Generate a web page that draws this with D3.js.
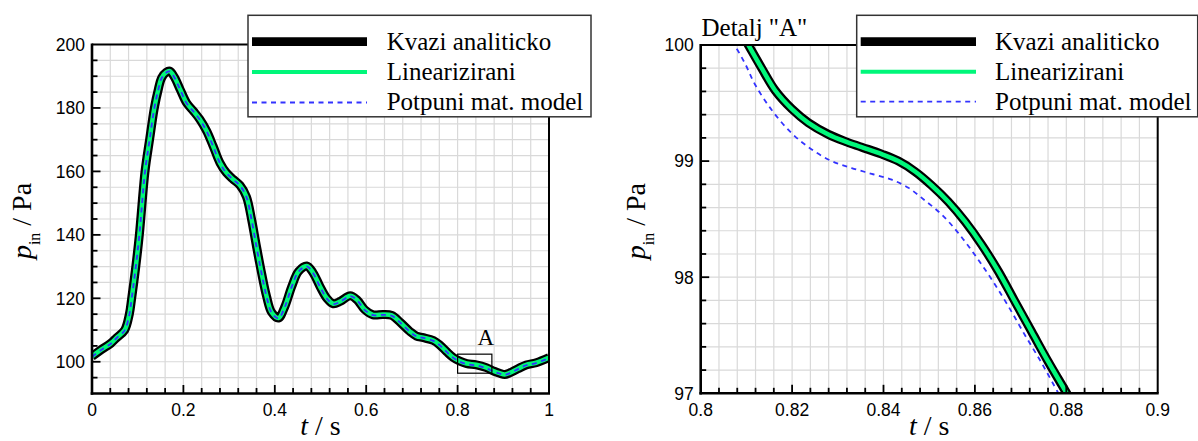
<!DOCTYPE html>
<html><head><meta charset="utf-8">
<script src="https://cdn.jsdelivr.net/npm/d3@7/dist/d3.min.js"></script>
<style>html,body{margin:0;padding:0;background:#fff;overflow:hidden}</style>
</head><body><svg id="c" width="1198" height="441"></svg>
<script>
// ---------- DATA ----------
const seriesNames = ["Kvazi analiticko", "Linearizirani", "Potpuni mat. model"];

// Left plot: full time range
const tLeft = [0, 0.02, 0.041, 0.054, 0.0715, 0.0817, 0.0868, 0.095, 0.1036, 0.116, 0.126, 0.1364, 0.145, 0.1524, 0.162, 0.170, 0.180, 0.193, 0.207, 0.222, 0.236, 0.251, 0.265, 0.280, 0.294, 0.309, 0.324, 0.338, 0.349, 0.360, 0.371, 0.382, 0.393, 0.408, 0.422, 0.437, 0.452, 0.470, 0.484, 0.499, 0.514, 0.528, 0.543, 0.565, 0.580, 0.597, 0.615, 0.637, 0.656, 0.674, 0.696, 0.710, 0.725, 0.747, 0.761, 0.776, 0.790, 0.805, 0.820, 0.841, 0.863, 0.880, 0.892, 0.903, 0.914, 0.932, 0.950, 0.972, 1.0];
const kvaziLeft = [101.7, 103.8, 105.8, 107.6, 110, 115, 120, 129, 140, 160, 170, 180, 185.8, 189.5, 191.2, 191.6, 189.8, 185.8, 181.6, 179, 176.4, 172.7, 168, 162.7, 159.6, 157.5, 155.6, 152, 145, 136.3, 128, 120.6, 115.6, 113.8, 117.4, 123.7, 128.5, 130.2, 128, 123.7, 120, 118.3, 119, 120.8, 119.5, 116.4, 114.8, 114.9, 114.6, 112.5, 109.5, 108.1, 107.6, 106.7, 105.3, 103.2, 101.4, 100.2, 99.45, 99.05, 98.15, 97.0, 96.4, 96.0, 96.5, 97.8, 99.0, 99.7, 101.3];
const linearLeft = [101.7, 103.8, 105.8, 107.6, 110, 115, 120, 129, 140, 160, 170, 180, 185.8, 189.5, 191.2, 191.6, 189.8, 185.8, 181.6, 179, 176.4, 172.7, 168, 162.7, 159.6, 157.5, 155.6, 152, 145, 136.3, 128, 120.6, 115.6, 113.8, 117.4, 123.7, 128.5, 130.2, 128, 123.7, 120, 118.3, 119, 120.8, 119.5, 116.4, 114.8, 114.9, 114.6, 112.5, 109.5, 108.1, 107.6, 106.7, 105.3, 103.2, 101.4, 100.2, 99.45, 99.05, 98.15, 97.0, 96.4, 96.0, 96.5, 97.8, 99.0, 99.7, 101.3];
const potpuniLeft = [101.6, 103.7, 105.7, 107.5, 109.9, 114.9, 119.9, 128.9, 139.9, 159.9, 169.9, 179.9, 185.7, 189.4, 191.1, 191.5, 189.7, 185.7, 181.5, 178.9, 176.3, 172.6, 167.9, 162.6, 159.5, 157.4, 155.5, 151.9, 144.9, 136.2, 127.9, 120.5, 115.5, 113.7, 117.3, 123.6, 128.4, 130.1, 127.9, 123.6, 119.9, 118.2, 118.9, 120.7, 119.4, 116.3, 114.7, 114.8, 114.5, 112.4, 109.4, 108.0, 107.5, 106.6, 105.2, 103.1, 101.3, 100.0, 99.25, 98.85, 97.95, 96.8, 96.3, 95.9, 96.4, 97.7, 98.9, 99.6, 101.2];

// Right plot: Detail "A"
const tDetailK = [0.8084, 0.81043, 0.81335, 0.81627, 0.81991, 0.82356, 0.82794, 0.83158, 0.83523, 0.83961, 0.84325, 0.8469, 0.85055, 0.85419, 0.85784, 0.86149, 0.86514, 0.86878, 0.87243, 0.87608, 0.88009, 0.8815];
const kvaziDetail = [100.14, 100.0, 99.8, 99.61, 99.45, 99.33, 99.23, 99.17, 99.12, 99.06, 99.0, 98.91, 98.79, 98.65, 98.48, 98.28, 98.05, 97.79, 97.53, 97.27, 97.0, 96.9];
const linearDetail = [100.14, 100.0, 99.8, 99.61, 99.45, 99.33, 99.23, 99.17, 99.12, 99.06, 99.0, 98.91, 98.79, 98.65, 98.48, 98.28, 98.05, 97.79, 97.53, 97.27, 97.0, 96.9];
const tDetailP = [0.8055, 0.80737, 0.8097, 0.81189, 0.81554, 0.81991, 0.82429, 0.82867, 0.83304, 0.83742, 0.8418, 0.84544, 0.84909, 0.85274, 0.85638, 0.86003, 0.86368, 0.86732, 0.87097, 0.87462, 0.87827, 0.8797];
const potpuniDetail = [100.1, 100.0, 99.84, 99.66, 99.44, 99.24, 99.10, 99.0, 98.94, 98.89, 98.84, 98.77, 98.66, 98.54, 98.38, 98.19, 97.98, 97.75, 97.50, 97.26, 97.0, 96.9];

// Ticks
const leftXMajor = [0, 0.2, 0.4, 0.6, 0.8, 1];
const leftXLabels = ["0", "0.2", "0.4", "0.6", "0.8", "1"];
const leftYMajor = [100, 120, 140, 160, 180, 200];
const leftYLabels = ["100", "120", "140", "160", "180", "200"];
const rightXMajor = [0.8, 0.82, 0.84, 0.86, 0.88, 0.9];
const rightXLabels = ["0.8", "0.82", "0.84", "0.86", "0.88", "0.9"];
const rightYMajor = [97, 98, 99, 100];
const rightYLabels = ["97", "98", "99", "100"];

// Detail box "A" on left plot
const boxA = {t0: 0.8, t1: 0.875, p0: 96.4, p1: 102.4};

// ---------- DRAW ----------
const svg = d3.select("#c");
const SERIF = "'Liberation Serif','Times New Roman',serif";
const SANS = "'Liberation Sans',Arial,Helvetica,sans-serif";

function range(a, b, step) { const out = []; const n = Math.round((b - a) / step); for (let i = 0; i <= n; i++) out.push(+(a + i * step).toFixed(6)); return out; }

function panel(cfg) {
  const g = svg.append("g");
  const x = d3.scaleLinear().domain(cfg.xd).range(cfg.xr);
  const y = d3.scaleLinear().domain(cfg.yd).range(cfg.yr);
  const id = "clip" + cfg.id;
  svg.append("defs").append("clipPath").attr("id", id).append("rect")
    .attr("x", cfg.xr[0]).attr("y", cfg.yr[1]).attr("width", cfg.xr[1] - cfg.xr[0]).attr("height", cfg.yr[0] - cfg.yr[1]);

  // grid
  const gx = range(cfg.xd[0], cfg.xd[1], cfg.xMinor);
  const gy = range(cfg.yd[0], cfg.yd[1], cfg.yMinor);
  g.append("g").selectAll("line").data(gx).join("line")
    .attr("x1", d => x(d)).attr("x2", d => x(d)).attr("y1", cfg.yr[0]).attr("y2", cfg.yr[1])
    .attr("stroke", "#d9d9d9").attr("stroke-width", 1.2);
  g.append("g").selectAll("line").data(gy).join("line")
    .attr("y1", d => y(d)).attr("y2", d => y(d)).attr("x1", cfg.xr[0]).attr("x2", cfg.xr[1])
    .attr("stroke", "#d9d9d9").attr("stroke-width", 1.2);

  // curves
  const cg = g.append("g").attr("clip-path", `url(#${id})`);
  const line = d3.line().x(d => x(d[0])).y(d => y(d[1])).curve(d3.curveCatmullRom.alpha(0.5));
  const zipS = (t, v) => t.map((tt, i) => [tt, v[i]]);
  cg.append("path").attr("d", line(zipS(cfg.tK, cfg.k))).attr("fill", "none").attr("stroke", "#000").attr("stroke-width", 9).attr("stroke-linejoin", "round");
  cg.append("path").attr("d", line(zipS(cfg.tK, cfg.l))).attr("fill", "none").attr("stroke", "#00f77a").attr("stroke-width", 4.5).attr("stroke-linejoin", "round");
  cg.append("path").attr("d", line(zipS(cfg.tP, cfg.p))).attr("fill", "none").attr("stroke", "#3333ff").attr("stroke-width", 1.8).attr("stroke-dasharray", "5,4.5");

  // frame
  const [x0, x1] = cfg.xr, [yb, yt] = cfg.yr;
  g.append("line").attr("x1", x0).attr("x2", x1).attr("y1", yt).attr("y2", yt).attr("stroke", "#000").attr("stroke-width", 2);
  g.append("line").attr("x1", x1).attr("x2", x1).attr("y1", yt).attr("y2", yb).attr("stroke", "#000").attr("stroke-width", 2);
  g.append("line").attr("x1", x0).attr("x2", x0).attr("y1", yt - 1).attr("y2", yb + 1.25).attr("stroke", "#000").attr("stroke-width", 2.6);
  g.append("line").attr("x1", x0 - 1.3).attr("x2", x1 + 1).attr("y1", yb).attr("y2", yb).attr("stroke", "#000").attr("stroke-width", 2.6);

  // ticks
  const majX = new Set(cfg.xMajor.map(v => v.toFixed(5)));
  const majY = new Set(cfg.yMajor.map(v => v.toFixed(5)));
  g.append("g").selectAll("line").data(gx.slice(1, -1)).join("line")
    .attr("x1", d => x(d)).attr("x2", d => x(d)).attr("y1", yb).attr("y2", d => yb - (majX.has(d.toFixed(5)) ? 8.5 : 5.5))
    .attr("stroke", "#000").attr("stroke-width", 1.8);
  g.append("g").selectAll("line").data(gy.slice(1, -1)).join("line")
    .attr("y1", d => y(d)).attr("y2", d => y(d)).attr("x1", x0).attr("x2", d => x0 + (majY.has(d.toFixed(5)) ? 8.5 : 5.5))
    .attr("stroke", "#000").attr("stroke-width", 1.8);

  // tick labels
  g.append("g").selectAll("text").data(cfg.xMajor).join("text")
    .attr("x", d => x(d)).attr("y", 416).attr("text-anchor", "middle")
    .attr("font-family", SANS).attr("font-size", 17.5).text((d, i) => cfg.xLabels[i]);
  g.append("g").selectAll("text").data(cfg.yMajor).join("text")
    .attr("x", x0 - 7).attr("y", d => y(d) + 6.3).attr("text-anchor", "end")
    .attr("font-family", SANS).attr("font-size", 17.5).text((d, i) => cfg.yLabels[i]);

  // axis titles
  const xt = g.append("text").attr("x", (x0 + x1) / 2).attr("y", 435).attr("text-anchor", "middle")
    .attr("font-family", SERIF).attr("font-size", 28);
  xt.append("tspan").attr("font-style", "italic").text("t");
  xt.append("tspan").text(" / s");

  const yt2 = g.append("text").attr("transform", `translate(${cfg.yTitleX},${(yb + yt) / 2 + 2}) rotate(-90)`)
    .attr("text-anchor", "middle").attr("font-family", SERIF).attr("font-size", 28);
  yt2.append("tspan").attr("font-style", "italic").text("p");
  yt2.append("tspan").attr("font-size", 16).attr("dy", 9).text("in");
  yt2.append("tspan").attr("dy", -9).text(" / Pa");

  return {g, x, y};
}

const L = panel({id: "L", xd: [0, 1], yd: [90, 200], xr: [92, 549], yr: [393.5, 44.5], xMinor: 0.04, yMinor: 5,
  xMajor: leftXMajor, xLabels: leftXLabels, yMajor: leftYMajor, yLabels: leftYLabels, yTitleX: 31,
  tK: tLeft, k: kvaziLeft, l: linearLeft, tP: tLeft, p: potpuniLeft});

const R = panel({id: "R", xd: [0.8, 0.9], yd: [97, 100], xr: [700.7, 1157.7], yr: [393.3, 45], xMinor: 0.004, yMinor: 0.2,
  xMajor: rightXMajor, xLabels: rightXLabels, yMajor: rightYMajor, yLabels: rightYLabels, yTitleX: 645,
  tK: tDetailK, k: kvaziDetail, l: linearDetail, tP: tDetailP, p: potpuniDetail});

// Box A
L.g.append("rect").attr("x", L.x(boxA.t0)).attr("y", L.y(boxA.p1))
  .attr("width", L.x(boxA.t1) - L.x(boxA.t0)).attr("height", L.y(boxA.p0) - L.y(boxA.p1))
  .attr("fill", "none").attr("stroke", "#000").attr("stroke-width", 1.2);
L.g.append("text").attr("x", (L.x(boxA.t0) + L.x(boxA.t1)) / 2 + 11).attr("y", L.y(boxA.p1) - 9)
  .attr("text-anchor", "middle").attr("font-family", SERIF).attr("font-size", 23).text("A");

// Detail title
svg.append("text").attr("x", 701.5).attr("y", 36).attr("font-family", SERIF).attr("font-size", 25).text('Detalj "A"');

// Legends
function legend(bx, bw, lx0, lx1, tx, rows, base) {
  const lg = svg.append("g");
  lg.append("rect").attr("x", bx).attr("y", 15.3).attr("width", bw).attr("height", 101.5)
    .attr("fill", "#fff").attr("stroke", "#333").attr("stroke-width", 1.5);
  const styles = [
    {c: "#000", w: 8.7, d: null},
    {c: "#00f77a", w: 4, d: null},
    {c: "#3333ff", w: 1.8, d: "5,4.5"}
  ];
  seriesNames.forEach((name, i) => {
    const s = styles[i];
    const ln = lg.append("line").attr("x1", lx0).attr("x2", lx1).attr("y1", rows[i]).attr("y2", rows[i])
      .attr("stroke", s.c).attr("stroke-width", s.w);
    if (s.d) ln.attr("stroke-dasharray", s.d);
    lg.append("text").attr("x", tx).attr("y", base[i]).attr("font-family", SERIF).attr("font-size", 25).text(name);
  });
}
legend(248, 343, 252, 367, 386.7, [41.7, 72, 102.5], [50, 80, 110]);
legend(856.7, 341, 860.7, 976, 995, [41.7, 71.7, 101.7], [49.5, 80, 110]);
</script></body></html>
